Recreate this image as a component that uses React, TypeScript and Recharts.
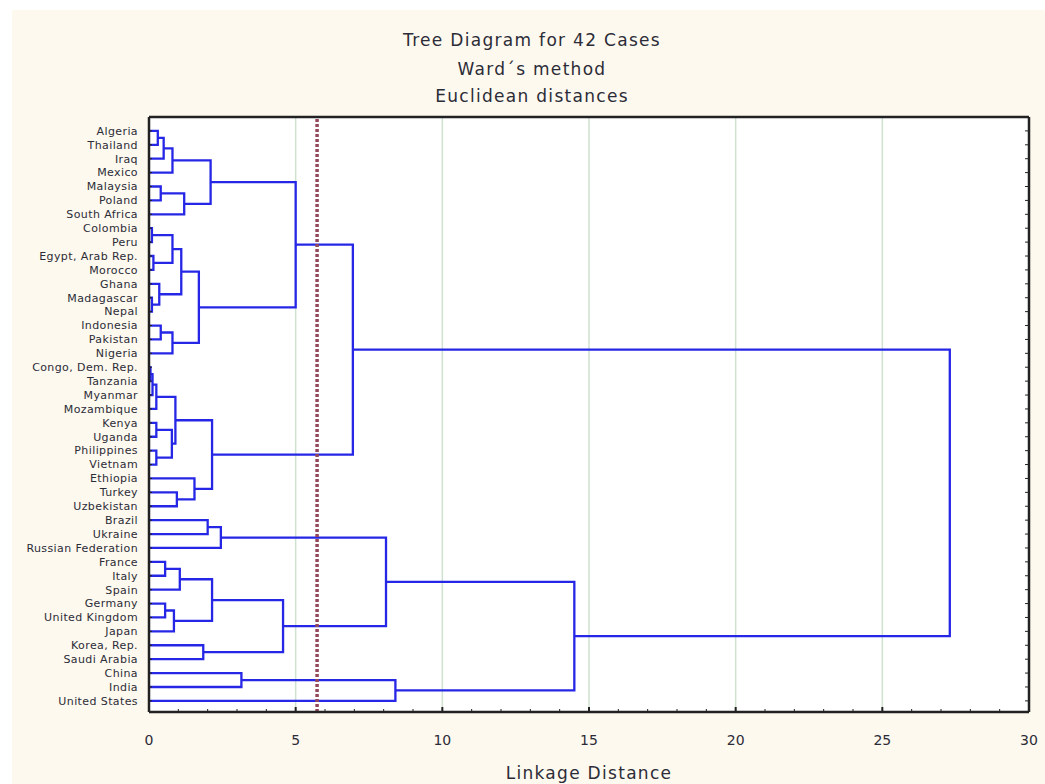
import React from 'react';
import { ComposedChart, Line, XAxis, YAxis, ReferenceLine, CartesianGrid } from 'recharts';

const countries = [
  'Algeria', 'Thailand', 'Iraq', 'Mexico', 'Malaysia', 'Poland', 'South Africa',
  'Colombia', 'Peru', 'Egypt, Arab Rep.', 'Morocco', 'Ghana', 'Madagascar', 'Nepal',
  'Indonesia', 'Pakistan', 'Nigeria', 'Congo, Dem. Rep.', 'Tanzania', 'Myanmar',
  'Mozambique', 'Kenya', 'Uganda', 'Philippines', 'Vietnam', 'Ethiopia', 'Turkey',
  'Uzbekistan', 'Brazil', 'Ukraine', 'Russian Federation', 'France', 'Italy', 'Spain',
  'Germany', 'United Kingdom', 'Japan', 'Korea, Rep.', 'Saudi Arabia', 'China', 'India',
  'United States',
];

// linkage rows: node ids < 42 are countries, id 42 + k is the k-th merge
const mergeLeft = [0, 42, 43, 4, 45, 44, 7, 9, 48, 12, 11, 50, 14, 54, 53, 47, 17, 58, 59, 21, 23, 61, 60, 26, 25, 64, 57, 28, 69, 31, 71, 34, 73, 72, 37, 75, 70, 39, 79, 78, 68];
const mergeRight = [1, 2, 3, 5, 6, 46, 8, 10, 49, 13, 51, 52, 15, 16, 55, 56, 18, 19, 20, 22, 24, 62, 63, 27, 65, 66, 67, 29, 30, 32, 33, 35, 36, 74, 38, 76, 77, 40, 41, 80, 81];
const mergeDistance = [0.3, 0.5, 0.8, 0.4, 1.2, 2.1, 0.1, 0.15, 0.8, 0.1, 0.35, 1.1, 0.4, 0.8, 1.7, 5.0, 0.05, 0.12, 0.25, 0.25, 0.25, 0.78, 0.9, 0.95, 1.55, 2.15, 6.95, 2.0, 2.45, 0.55, 1.05, 0.55, 0.85, 2.15, 1.85, 4.57, 8.08, 3.15, 8.4, 14.5, 27.3];

const xLabelTicks = [0, 5, 10, 15, 20, 25, 30];
const xMinorTicks = [0, 1, 2, 3, 4, 5, 6, 7, 8, 9, 10, 11, 12, 13, 14, 15, 16, 17, 18, 19, 20, 21, 22, 23, 24, 25, 26, 27, 28, 29, 30];
const gridValues = [5, 10, 15, 20, 25];
const cutDistance = 5.73;

const titleLines = ['Tree Diagram for 42 Cases', 'Ward\u00b4s method', 'Euclidean distances'];

const BLUE = '#2626e6';
const INK = '#2c2c38';
const FONT = '"DejaVu Sans", Arial, sans-serif';

// build the elbow polylines of the dendrogram
const nodeY: number[] = countries.map((_, i) => i);
const nodeH: number[] = countries.map(() => 0);
const links = mergeLeft.map((a, k) => {
  const b = mergeRight[k];
  const h = mergeDistance[k];
  const pts = [
    { x: nodeH[a], y: nodeY[a] },
    { x: h, y: nodeY[a] },
    { x: h, y: nodeY[b] },
    { x: nodeH[b], y: nodeY[b] },
  ];
  nodeY.push((nodeY[a] + nodeY[b]) / 2);
  nodeH.push(h);
  return pts;
});

const leafTicks = countries.map((_, i) => i);
const yDomain = [-1.0, 41.8];

const BottomTick = (props: any) => {
  const { x, y, payload } = props;
  const major = xLabelTicks.includes(payload.value);
  return (
    <g>
      <line x1={x} x2={x} y1={y} y2={y - (major ? 5 : 3)} stroke="#222" strokeWidth={major ? 2 : 1} />
      {major && (
        <text x={x} y={y + 33} textAnchor="middle" fontSize={14} fontFamily={FONT} fill={INK}>
          {payload.value}
        </text>
      )}
    </g>
  );
};

const TopTick = (props: any) => {
  const { x, y, payload } = props;
  const major = xLabelTicks.includes(payload.value);
  return <line x1={x} x2={x} y1={y} y2={y + (major ? 5 : 3)} stroke="#222" strokeWidth={major ? 2 : 1} />;
};

const LeftTick = (props: any) => {
  const { x, y, payload } = props;
  return (
    <g>
      <line x1={x} x2={x + 3} y1={y} y2={y} stroke="#222" strokeWidth={1} />
      <text x={x - 11} y={y} dy="0.35em" textAnchor="end" fontSize={11} letterSpacing={0.4} fontFamily={FONT} fill={INK}>
        {countries[payload.value]}
      </text>
    </g>
  );
};

const RightTick = (props: any) => {
  const { x, y } = props;
  return <line x1={x} x2={x - 4} y1={y} y2={y} stroke="#222" strokeWidth={1} />;
};

export default function App() {
  return (
    <div style={{ position: 'absolute', left: 0, top: 0, width: 1045, height: 784, background: '#fff', overflow: 'hidden' }}>
      <div style={{ position: 'absolute', left: 12, top: 10, right: 0, bottom: 0, background: '#fdf9ee' }} />
      {titleLines.map((t, i) => (
        <div
          key={t}
          style={{
            position: 'absolute',
            left: 532,
            top: [40, 69, 96][i] - 11,
            transform: 'translateX(-50%)',
            whiteSpace: 'nowrap',
            fontFamily: FONT,
            fontSize: 17,
            lineHeight: '22px',
            letterSpacing: 1.3,
            color: INK,
          }}
        >
          {t}
        </div>
      ))}
      <div
        style={{
          position: 'absolute',
          left: 589,
          top: 762,
          transform: 'translateX(-50%)',
          whiteSpace: 'nowrap',
          fontFamily: FONT,
          fontSize: 17,
          lineHeight: '22px',
          letterSpacing: 1.3,
          color: INK,
        }}
      >
        Linkage Distance
      </div>
      <div style={{ position: 'absolute', left: 0, top: 0 }}>
        <ComposedChart width={1045} height={784} margin={{ top: 115, right: 14, bottom: 12, left: 0 }}>
          <CartesianGrid xAxisId="b" yAxisId="l" horizontal={false} vertical={false} fill="#ffffff" />
          <XAxis
            xAxisId="b"
            dataKey="x"
            type="number"
            domain={[0, 30]}
            allowDataOverflow
            ticks={xMinorTicks}
            interval={0}
            height={60}
            tickSize={0}
            tickMargin={0}
            tick={<BottomTick />}
            axisLine={{ stroke: '#222', strokeWidth: 2.5 }}
          />
          <XAxis
            xAxisId="t"
            orientation="top"
            type="number"
            domain={[0, 30]}
            allowDataOverflow
            ticks={xMinorTicks}
            interval={0}
            height={2}
            tickSize={0}
            tickMargin={0}
            tick={<TopTick />}
            axisLine={{ stroke: '#222', strokeWidth: 2.5 }}
          />
          <YAxis
            yAxisId="l"
            type="number"
            domain={yDomain}
            reversed
            allowDataOverflow
            ticks={leafTicks}
            interval={0}
            width={149}
            tickSize={0}
            tickMargin={0}
            tick={<LeftTick />}
            axisLine={{ stroke: '#222', strokeWidth: 2.5 }}
          />
          <YAxis
            yAxisId="r"
            orientation="right"
            type="number"
            domain={yDomain}
            reversed
            allowDataOverflow
            ticks={leafTicks}
            interval={0}
            width={2}
            tickSize={0}
            tickMargin={0}
            tick={<RightTick />}
            axisLine={{ stroke: '#222', strokeWidth: 2.5 }}
          />
          {gridValues.map((v) => (
            <ReferenceLine key={v} x={v} xAxisId="b" yAxisId="l" stroke="#cfe2d0" strokeWidth={1.5} />
          ))}
          {links.map((pts, k) => (
            <Line
              key={k}
              xAxisId="b"
              yAxisId="l"
              data={pts}
              dataKey="y"
              type="linear"
              stroke={BLUE}
              strokeWidth={2.3}
              dot={false}
              activeDot={false}
              isAnimationActive={false}
            />
          ))}
          <ReferenceLine
            x={cutDistance}
            xAxisId="b"
            yAxisId="l"
            stroke="#94465a"
            strokeWidth={3.5}
            strokeDasharray="3 2"
          />
        </ComposedChart>
      </div>
    </div>
  );
}
